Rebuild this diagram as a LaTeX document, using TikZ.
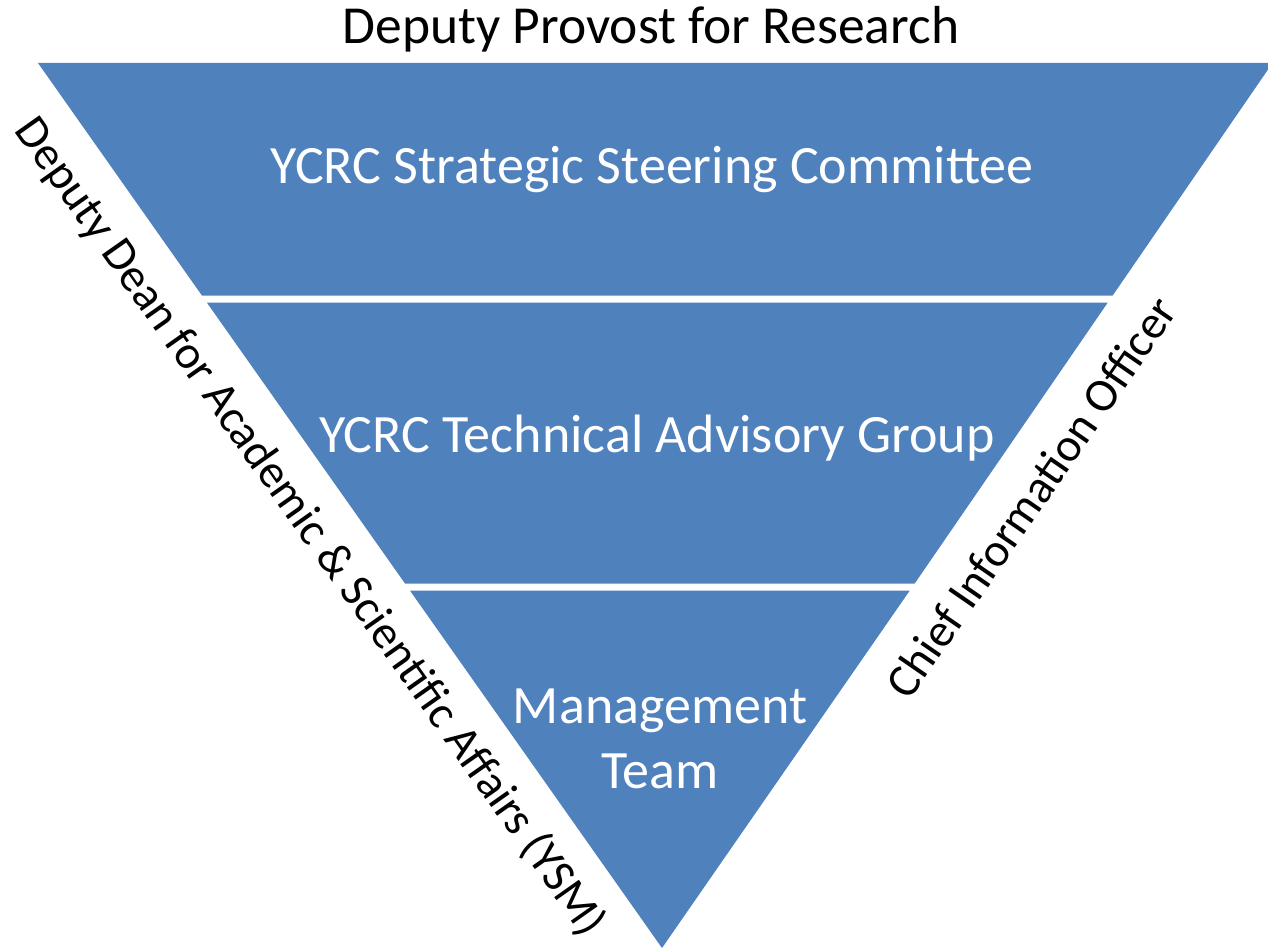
\documentclass[tikz,border=0pt]{standalone}
\usepackage{fontspec}
\setmainfont{Carlito}
\definecolor{bandblue}{HTML}{4F81BD}
\begin{document}
\begin{tikzpicture}[x=1pt,y=-1pt,
  band/.style={fill=bandblue, draw=none},
  lbl/.style={font=\fontsize{53.5}{65}\selectfont, inner sep=0pt},
  sidelbl/.style={font=\fontsize{47}{57}\selectfont, inner sep=0pt},
  inlbl/.style={font=\fontsize{54}{65}\selectfont, inner sep=0pt, text=white, align=center}]
\useasboundingbox (0,0) rectangle (1268,952);
\begin{scope}
\clip (0,0) rectangle (1268,952);
% bands of the inverted pyramid
\fill[band] (38,63) -- (1272.5,63) -- (1112.7,295.5) -- (201.9,295.5) -- cycle;
\fill[band] (206.8,302.5) -- (1107.8,302.5) -- (914.7,583.5) -- (405.0,583.5) -- cycle;
\fill[band] (409.9,590.5) -- (909.8,590.5) -- (662,948) -- cycle;
\end{scope}
% labels
\node[lbl, anchor=base] (dpr) at (651,44) {Deputy Provost for Research};
\node[inlbl, anchor=base] (ssc) at (652,184) {YCRC Strategic Steering Committee};
\node[inlbl, anchor=base] (tag) at (657,452) {YCRC Technical Advisory Group};
\node[inlbl, anchor=center] (mt) at (660,739) {Management\\Team};
\node[sidelbl, rotate=-54.8] (dean) at (310,527) {Deputy Dean for Academic \& Scientific Affairs (YSM)};
\node[sidelbl, rotate=55.4] (cio) at (1031,497) {Chief Information Officer};
\end{tikzpicture}
\end{document}
